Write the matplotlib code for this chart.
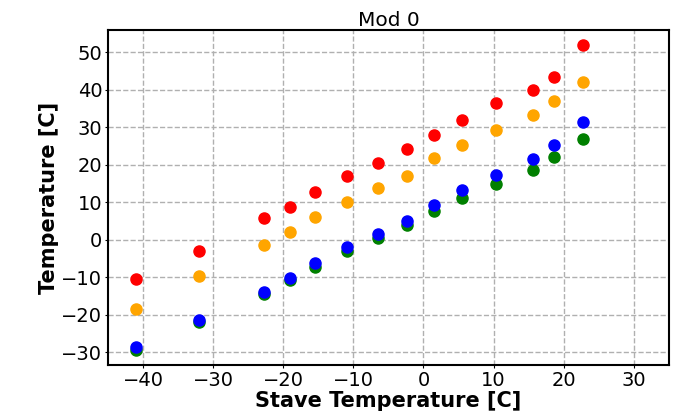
import matplotlib
matplotlib.use("Agg")
import matplotlib.pyplot as plt
from matplotlib.ticker import MultipleLocator

stave_temp = [-41.0, -32.0, -22.8, -19.1, -15.5, -10.9, -6.5, -2.3, 1.5, 5.5, 10.3, 15.6, 18.6, 22.7]
red_vals = [-10.6, -3.0, 5.8, 8.7, 12.8, 17.1, 20.4, 24.2, 28.0, 31.8, 36.5, 39.9, 43.5, 51.9]
orange_vals = [-18.4, -9.8, -1.5, 2.0, 6.0, 10.1, 13.8, 17.1, 21.7, 25.3, 29.3, 33.2, 36.9, 42.1]
green_vals = [-29.4, -21.9, -14.6, -10.8, -7.2, -3.1, 0.5, 3.8, 7.6, 11.1, 14.9, 18.7, 22.0, 26.9]
blue_vals = [-28.7, -21.5, -14.0, -10.2, -6.2, -1.9, 1.6, 5.0, 9.2, 13.2, 17.3, 21.4, 25.3, 31.4]

fig = plt.figure(figsize=(6.79, 4.15), dpi=100)
ax = fig.add_axes([0.159, 0.12, 0.826, 0.808])

ms = 8
ax.plot(stave_temp, red_vals, 'o', color='red', markersize=ms, zorder=3)
ax.plot(stave_temp, orange_vals, 'o', color='orange', markersize=ms, zorder=3)
ax.plot(stave_temp, green_vals, 'o', color='green', markersize=ms, zorder=3)
ax.plot(stave_temp, blue_vals, 'o', color='blue', markersize=ms, zorder=3)

ax.set_xlim(-45, 35)
ax.xaxis.set_major_locator(MultipleLocator(10))
ax.yaxis.set_major_locator(MultipleLocator(10))
ax.grid(True, linestyle='--', color='#b0b0b0', linewidth=1.0)
ax.set_axisbelow(True)
ax.tick_params(labelsize=14, length=2, pad=2)
for s in ax.spines.values():
    s.set_linewidth(1.5)
ax.set_xlabel('Stave Temperature [C]', fontsize=15, fontweight='bold', labelpad=1)
ax.set_ylabel('Temperature [C]', fontsize=15, fontweight='bold', labelpad=2)
ax.set_title('Mod 0', fontsize=14.5, pad=3)

fig.savefig('out.png', dpi=100)
